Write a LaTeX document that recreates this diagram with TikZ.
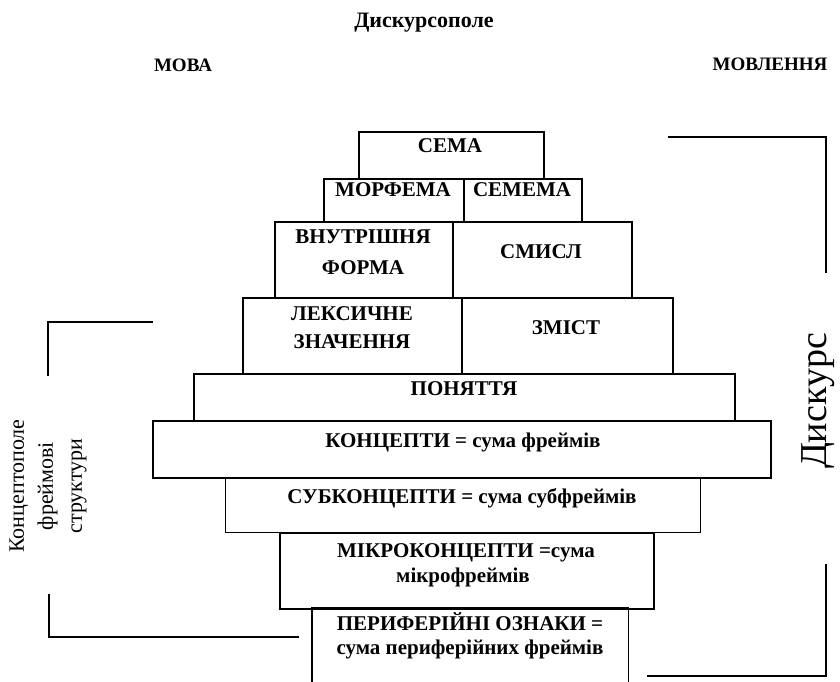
\documentclass[tikz,border=0pt]{standalone}
\usepackage{fontspec}
\setmainfont{Liberation Serif}
\begin{document}
\begin{tikzpicture}[x=1pt,y=-1pt,
  blk/.style={draw, line width=1.8pt, inner sep=0pt, anchor=north west},
  openblk/.style={inner sep=0pt, anchor=north west},
  lbl/.style={font=\fontsize{21}{30}\selectfont\bfseries, anchor=base, inner sep=0pt},
  head/.style={font=\fontsize{19}{24}\selectfont\bfseries, anchor=base, inner sep=0pt},
  ttl/.style={font=\fontsize{22}{26}\selectfont\bfseries, anchor=base, inner sep=0pt},
  side/.style={font=\fontsize{22}{29}\selectfont, align=center, rotate=90, inner sep=0pt},
  disk/.style={font=\fontsize{38}{40}\selectfont, rotate=90, inner sep=0pt},
  brk/.style={line width=2pt},
  brkthin/.style={line width=1.1pt}]
\useasboundingbox (0,0) rectangle (840,682);
\fill[white] (0,0) rectangle (840,682);

% headings
\node[ttl] (title) at (424,28) {Дискурсополе};
\node[head] (mova) at (183,72) {МОВА};
\node[head] (movl) at (770,71) {МОВЛЕННЯ};

% boxes
\node[blk, minimum width=185pt, minimum height=47pt] (sema) at (358,131) {};
\node[blk, minimum width=140pt, minimum height=43pt] (morf) at (323,178) {};
\node[blk, minimum width=118pt, minimum height=43pt] (semema) at (463,178) {};
\node[blk, minimum width=178pt, minimum height=76pt] (vnutr) at (274,221) {};
\node[blk, minimum width=179pt, minimum height=76pt] (smysl) at (452,221) {};
\node[blk, minimum width=219pt, minimum height=76pt] (leks) at (242,297) {};
\node[blk, minimum width=211pt, minimum height=76pt] (zmist) at (461,297) {};
\node[blk, minimum width=541pt, minimum height=47pt] (pon) at (193,373) {};
\node[blk, minimum width=618pt, minimum height=57pt] (konc) at (152,420) {};
\node[blk, minimum width=475pt, minimum height=55pt, line width=1.3pt] (subk) at (225,477) {};
\node[blk, minimum width=374pt, minimum height=76pt] (mikro) at (279,532) {};
\node[openblk, minimum width=316pt, minimum height=84pt] (perif) at (312,608) {};
\draw[line width=1.8pt] (perif.south west) -- (perif.north west) -- (perif.north east) -- (perif.south east);

% box texts
\node[lbl] (tsema) at (450,152) {СЕМА};
\node[lbl] (tmorf) at (393,196) {МОРФЕМА};
\node[lbl] (tsemema) at (522,196) {СЕМЕМА};
\node[lbl] (tvn1) at (363,243) {ВНУТРІШНЯ};
\node[lbl] (tvn2) at (363,274) {ФОРМА};
\node[lbl] (tsm) at (541,258) {СМИСЛ};
\node[lbl] (tlk1) at (352,320) {ЛЕКСИЧНЕ};
\node[lbl] (tlk2) at (352,348) {ЗНАЧЕННЯ};
\node[lbl] (tzm) at (566,334) {ЗМІСТ};
\node[lbl] (tpon) at (464,395) {ПОНЯТТЯ};
\node[lbl] (tkonc) at (463,447) {КОНЦЕПТИ = сума фреймів};
\node[lbl] (tsub) at (462,503) {СУБКОНЦЕПТИ = сума субфреймів};
\node[lbl] (tmk1) at (466,557) {МІКРОКОНЦЕПТИ =сума};
\node[lbl] (tmk2) at (463,582) {мікрофреймів};
\node[lbl] (tpf1) at (470,630) {ПЕРИФЕРІЙНІ ОЗНАКИ =};
\node[lbl] (tpf2) at (470,654) {сума периферійних фреймів};

% side labels
\node[side] (kpole) at (48,486) {Концептополе\\фреймові\\структури};
\node[disk] (diskurs) at (818,401) {Дискурс};

% brackets
\coordinate (lt1) at (153,322); \coordinate (lt2) at (48,322); \coordinate (lt3) at (48,376);
\coordinate (lb1) at (49,594); \coordinate (lb2) at (49,637); \coordinate (lb3) at (299,637);
\coordinate (rt1) at (668,137); \coordinate (rt2) at (826,137); \coordinate (rt3) at (826,273);
\coordinate (rb1) at (826,564); \coordinate (rb2) at (826,676); \coordinate (rb3) at (647,676);
\draw[brk] (lt1) -- (lt2) -- (lt3);
\draw[brk] (lb1) -- (lb2) -- (lb3);
\draw[brkthin] (rt1) -- (rt2) -- (rt3);
\draw[brk] (rb1) -- (rb2) -- (rb3);
\end{tikzpicture}
\end{document}
